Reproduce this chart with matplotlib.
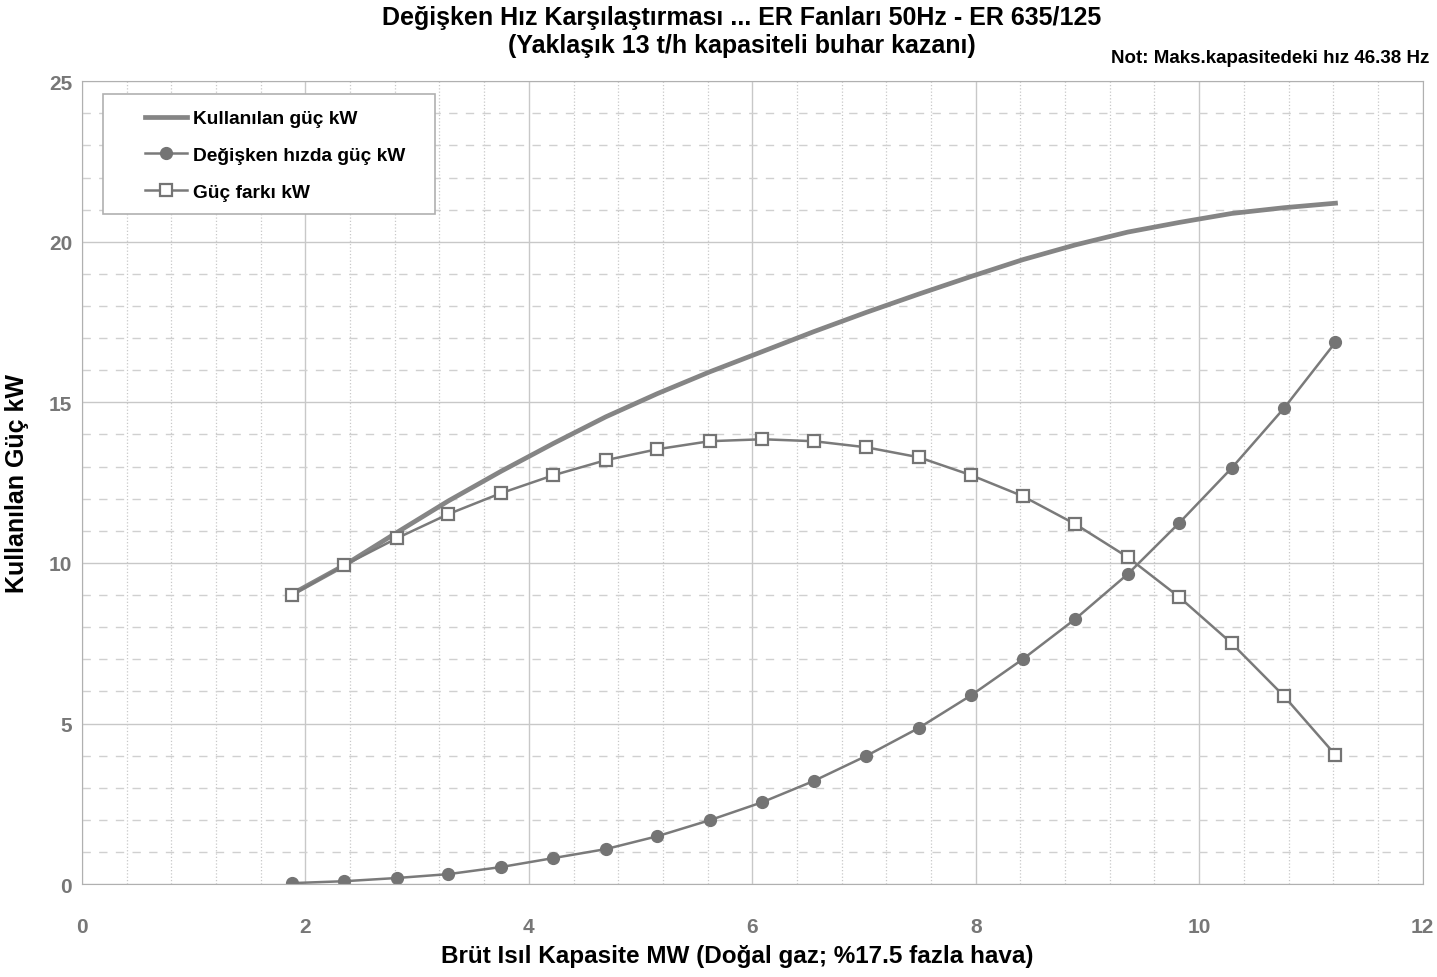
import numpy as np
import matplotlib.pyplot as plt
from matplotlib.ticker import MultipleLocator
from matplotlib.patches import Rectangle

plt.rcParams['font.family'] = ['Liberation Sans', 'DejaVu Sans']

# data
capacity_mw = [1.88, 2.35, 2.82, 3.28, 3.75, 4.22, 4.69, 5.15, 5.62, 6.09, 6.55,
               7.02, 7.49, 7.96, 8.42, 8.89, 9.36, 9.82, 10.29, 10.76, 11.22]
used_kw = [9.03, 9.93, 10.95, 11.93, 12.85, 13.72, 14.55, 15.27, 15.95, 16.58, 17.2,
           17.8, 18.37, 18.92, 19.44, 19.9, 20.3, 20.6, 20.88, 21.06, 21.2]
variable_kw = [0.03, 0.09, 0.19, 0.31, 0.53, 0.81, 1.09, 1.49, 1.99, 2.55, 3.21,
               3.99, 4.86, 5.88, 7.0, 8.25, 9.65, 11.24, 12.95, 14.82, 16.87]
diff_kw = [9.0, 9.93, 10.77, 11.52, 12.17, 12.73, 13.2, 13.54, 13.79, 13.85, 13.79,
           13.6, 13.29, 12.73, 12.08, 11.21, 10.18, 8.94, 7.5, 5.85, 4.02]

labels = ["Kullanılan güç kW", "Değişken hızda güç kW", "Güç farkı kW"]

fig = plt.figure(figsize=(14.37, 9.78), dpi=100)
ax = fig.add_axes([0.057, 0.095, 0.933, 0.821])

ax.plot(capacity_mw, used_kw, color="#858585", lw=3.4, label=labels[0])
ax.plot(capacity_mw, variable_kw, color="#7a7a7a", lw=1.8, marker="o", ms=8.5,
        mfc="#747474", mec="#747474", label=labels[1])
ax.plot(capacity_mw, diff_kw, color="#7a7a7a", lw=1.8, marker="s", ms=8,
        mfc="white", mec="#747474", mew=1.6, label=labels[2])

ax.set_xlim(0, 12)
ax.set_ylim(0, 25)
ax.xaxis.set_major_locator(MultipleLocator(2))
ax.xaxis.set_minor_locator(MultipleLocator(0.4))
ax.yaxis.set_major_locator(MultipleLocator(5))
ax.yaxis.set_minor_locator(MultipleLocator(1))
ax.grid(which="major", color="#c8c8c8", lw=1.0)
ax.grid(which="minor", axis="x", color="#c8c8c8", lw=0.9, ls=":")
ax.grid(which="minor", axis="y", color="#d0d0d0", lw=1.0, ls=(0, (6, 6)))
ax.set_axisbelow(True)

for s in ax.spines.values():
    s.set_color("#b0b0b0")

ax.tick_params(which="both", length=0)
ax.tick_params(axis="x", pad=24, labelsize=15, labelcolor="#777777")
ax.tick_params(axis="y", pad=7, labelsize=15, labelcolor="#777777")
for t in ax.get_xticklabels() + ax.get_yticklabels():
    t.set_fontweight("bold")

ax.set_xlabel("Brüt Isıl Kapasite MW (Doğal gaz; %17.5 fazla hava)",
              fontsize=17.5, fontweight="bold")
ax.xaxis.set_label_coords(0.489, -0.074)
ax.set_ylabel("Kullanılan Güç kW", fontsize=18, fontweight="bold", labelpad=14)

# legend box drawn separately so the padding matches the scan
ax.add_patch(Rectangle((0.0156, 0.834), 0.2476, 0.150, transform=ax.transAxes,
                       facecolor="white", edgecolor="#b0b0b0", lw=1.2, zorder=4))
leg = ax.legend(loc="upper left", bbox_to_anchor=(0.047, 0.964), frameon=False,
                prop={"weight": "bold", "size": 13.8}, handlelength=2.2,
                labelspacing=1.0, borderpad=0.0, borderaxespad=0.0,
                handletextpad=0.3)
leg.set_zorder(5)

fig.text(0.516, 0.982, "Değişken Hız Karşılaştırması ... ER Fanları 50Hz - ER 635/125",
         ha="center", va="center", fontsize=18, fontweight="bold")
fig.text(0.516, 0.953, "(Yaklaşık 13 t/h kapasiteli buhar kazanı)",
         ha="center", va="center", fontsize=18, fontweight="bold")
fig.text(0.995, 0.940, "Not: Maks.kapasitedeki hız 46.38 Hz",
         ha="right", va="center", fontsize=13.5, fontweight="bold")

fig.savefig("out.png", dpi=100)
